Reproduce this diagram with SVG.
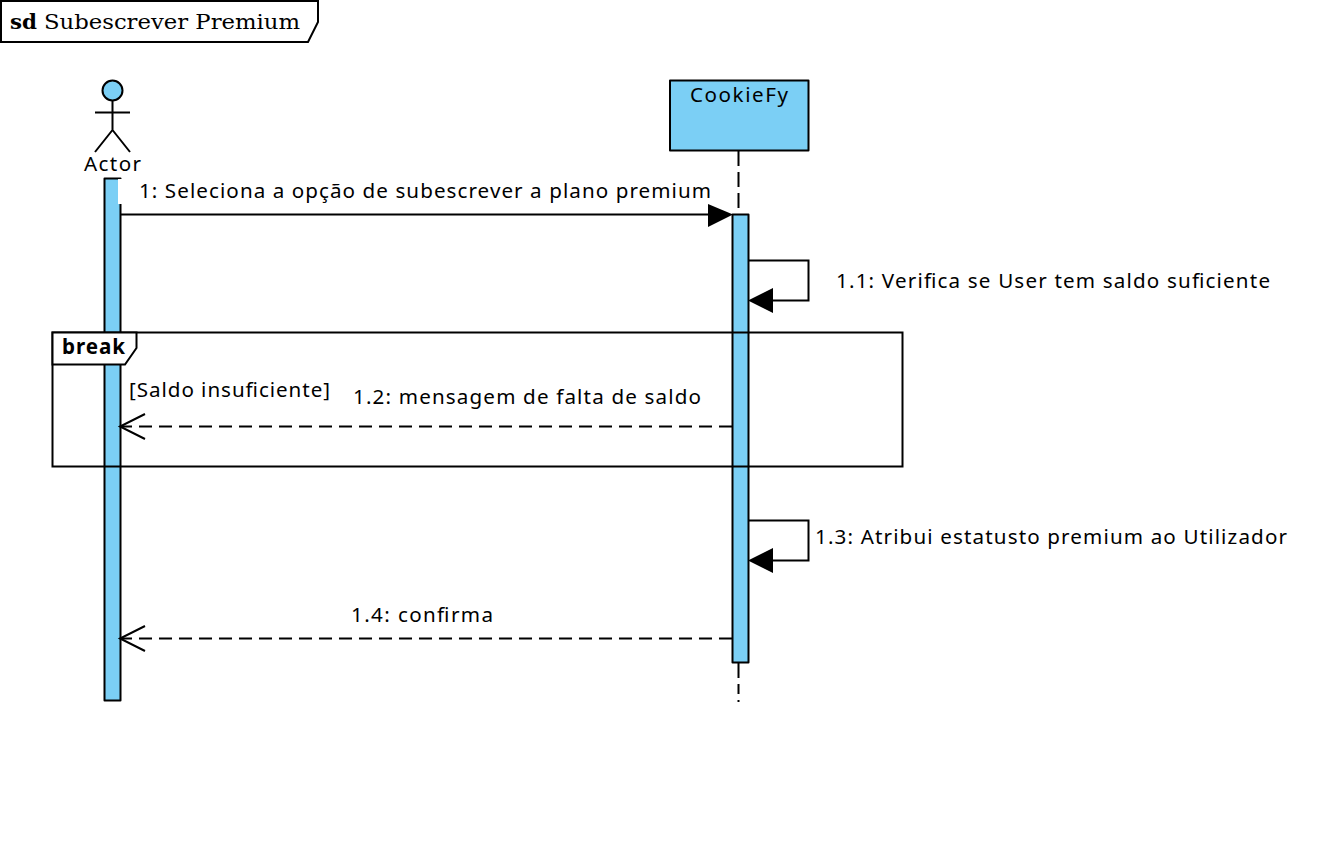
<svg xmlns="http://www.w3.org/2000/svg" width="1334" height="848" viewBox="0 0 1334 848">
<style>
.s{stroke:#000;stroke-width:2;fill:none}
.b{stroke:#000;stroke-width:2;fill:#7bcff5;stroke-linejoin:round}
.w{stroke:#000;stroke-width:2;fill:#fff}
.d{stroke:#000;stroke-width:2;fill:none;stroke-dasharray:13 7}
.l{stroke:#000;stroke-width:2;fill:none;stroke-dasharray:15 6}
.t{font-family:"Noto Sans","DejaVu Sans",sans-serif;font-size:20.6px;fill:#000}
.h{fill:#000;stroke:none}
</style>
<rect width="1334" height="848" fill="#fff"/>
<g id="frame-title">
<path class="w" d="M1 1H318V22L308 42H1Z"/>
<text x="10" y="29" font-family="'DejaVu Serif',serif" font-size="21" font-weight="bold" textLength="27" lengthAdjust="spacingAndGlyphs">sd</text>
<text x="44" y="29" font-family="'DejaVu Serif',serif" font-size="21" textLength="256" lengthAdjust="spacingAndGlyphs">Subescrever Premium</text>
</g>
<g id="actor">
<circle class="b" cx="112.500" cy="90.500" r="10"/>
<path class="s" d="M112.500 100.500V130M95 112.500H130M112.500 130L95 152M112.500 130L130 152"/>
<text class="t" x="84" y="171" textLength="57" lengthAdjust="spacing">Actor</text>
</g>
<g id="actor-activation">
<rect class="b" x="104.500" y="178.500" width="16" height="522"/>
<rect x="118" y="179" width="22" height="25" fill="#fff"/>
</g>
<g id="cookiefy">
<rect class="b" x="670" y="80.500" width="138.500" height="70"/>
<text class="t" x="690" y="102" textLength="98" lengthAdjust="spacing">CookieFy</text>
</g>
<g id="connectors">
<path class="l" d="M738.500 151V214"/>
<path class="l" d="M738.500 663V694M738.500 700V702"/>
<path class="s" d="M120 214.500H710"/>
<path class="h" d="M708 204V227L733 214.500Z"/>
<path class="s" d="M748 260.500H808.500V300.500H770"/>
<path class="h" d="M773 288V313L748 300.500Z"/>
<path class="d" d="M732 426.500H122"/>
<path class="s" d="M145 414L120 426.500L145 439"/>
<path class="s" d="M748 520.500H808.500V560.500H770"/>
<path class="h" d="M773 548V573L748 560.500Z"/>
<path class="d" d="M732 638.500H122"/>
<path class="s" d="M145 626L120 638.500L145 651"/>
</g>
<g id="cookiefy-activation">
<rect class="b" x="732.500" y="214.500" width="16" height="448"/>
</g>
<g id="break-fragment">
<rect class="s" x="52.500" y="332.500" width="850" height="134"/>
<path class="w" d="M52.500 332.500H136.500V348L125 364.500H52.500Z"/>
<text x="62" y="354" font-family="'Noto Sans','DejaVu Sans',sans-serif" font-size="20.6" font-weight="bold" textLength="63" lengthAdjust="spacing">break</text>
<text class="t" x="129" y="397" textLength="201" lengthAdjust="spacing">[Saldo insuficiente]</text>
</g>
<g id="labels">
<text class="t" x="139" y="198" textLength="572" lengthAdjust="spacing">1: Seleciona a opção de subescrever a plano premium</text>
<text class="t" x="836" y="288" textLength="434" lengthAdjust="spacing">1.1: Verifica se User tem saldo suficiente</text>
<text class="t" x="353" y="404" textLength="348" lengthAdjust="spacing">1.2: mensagem de falta de saldo</text>
<text class="t" x="815" y="544" textLength="472" lengthAdjust="spacing">1.3: Atribui estatusto premium ao Utilizador</text>
<text class="t" x="351" y="622" textLength="142" lengthAdjust="spacing">1.4: confirma</text>
</g>
</svg>
